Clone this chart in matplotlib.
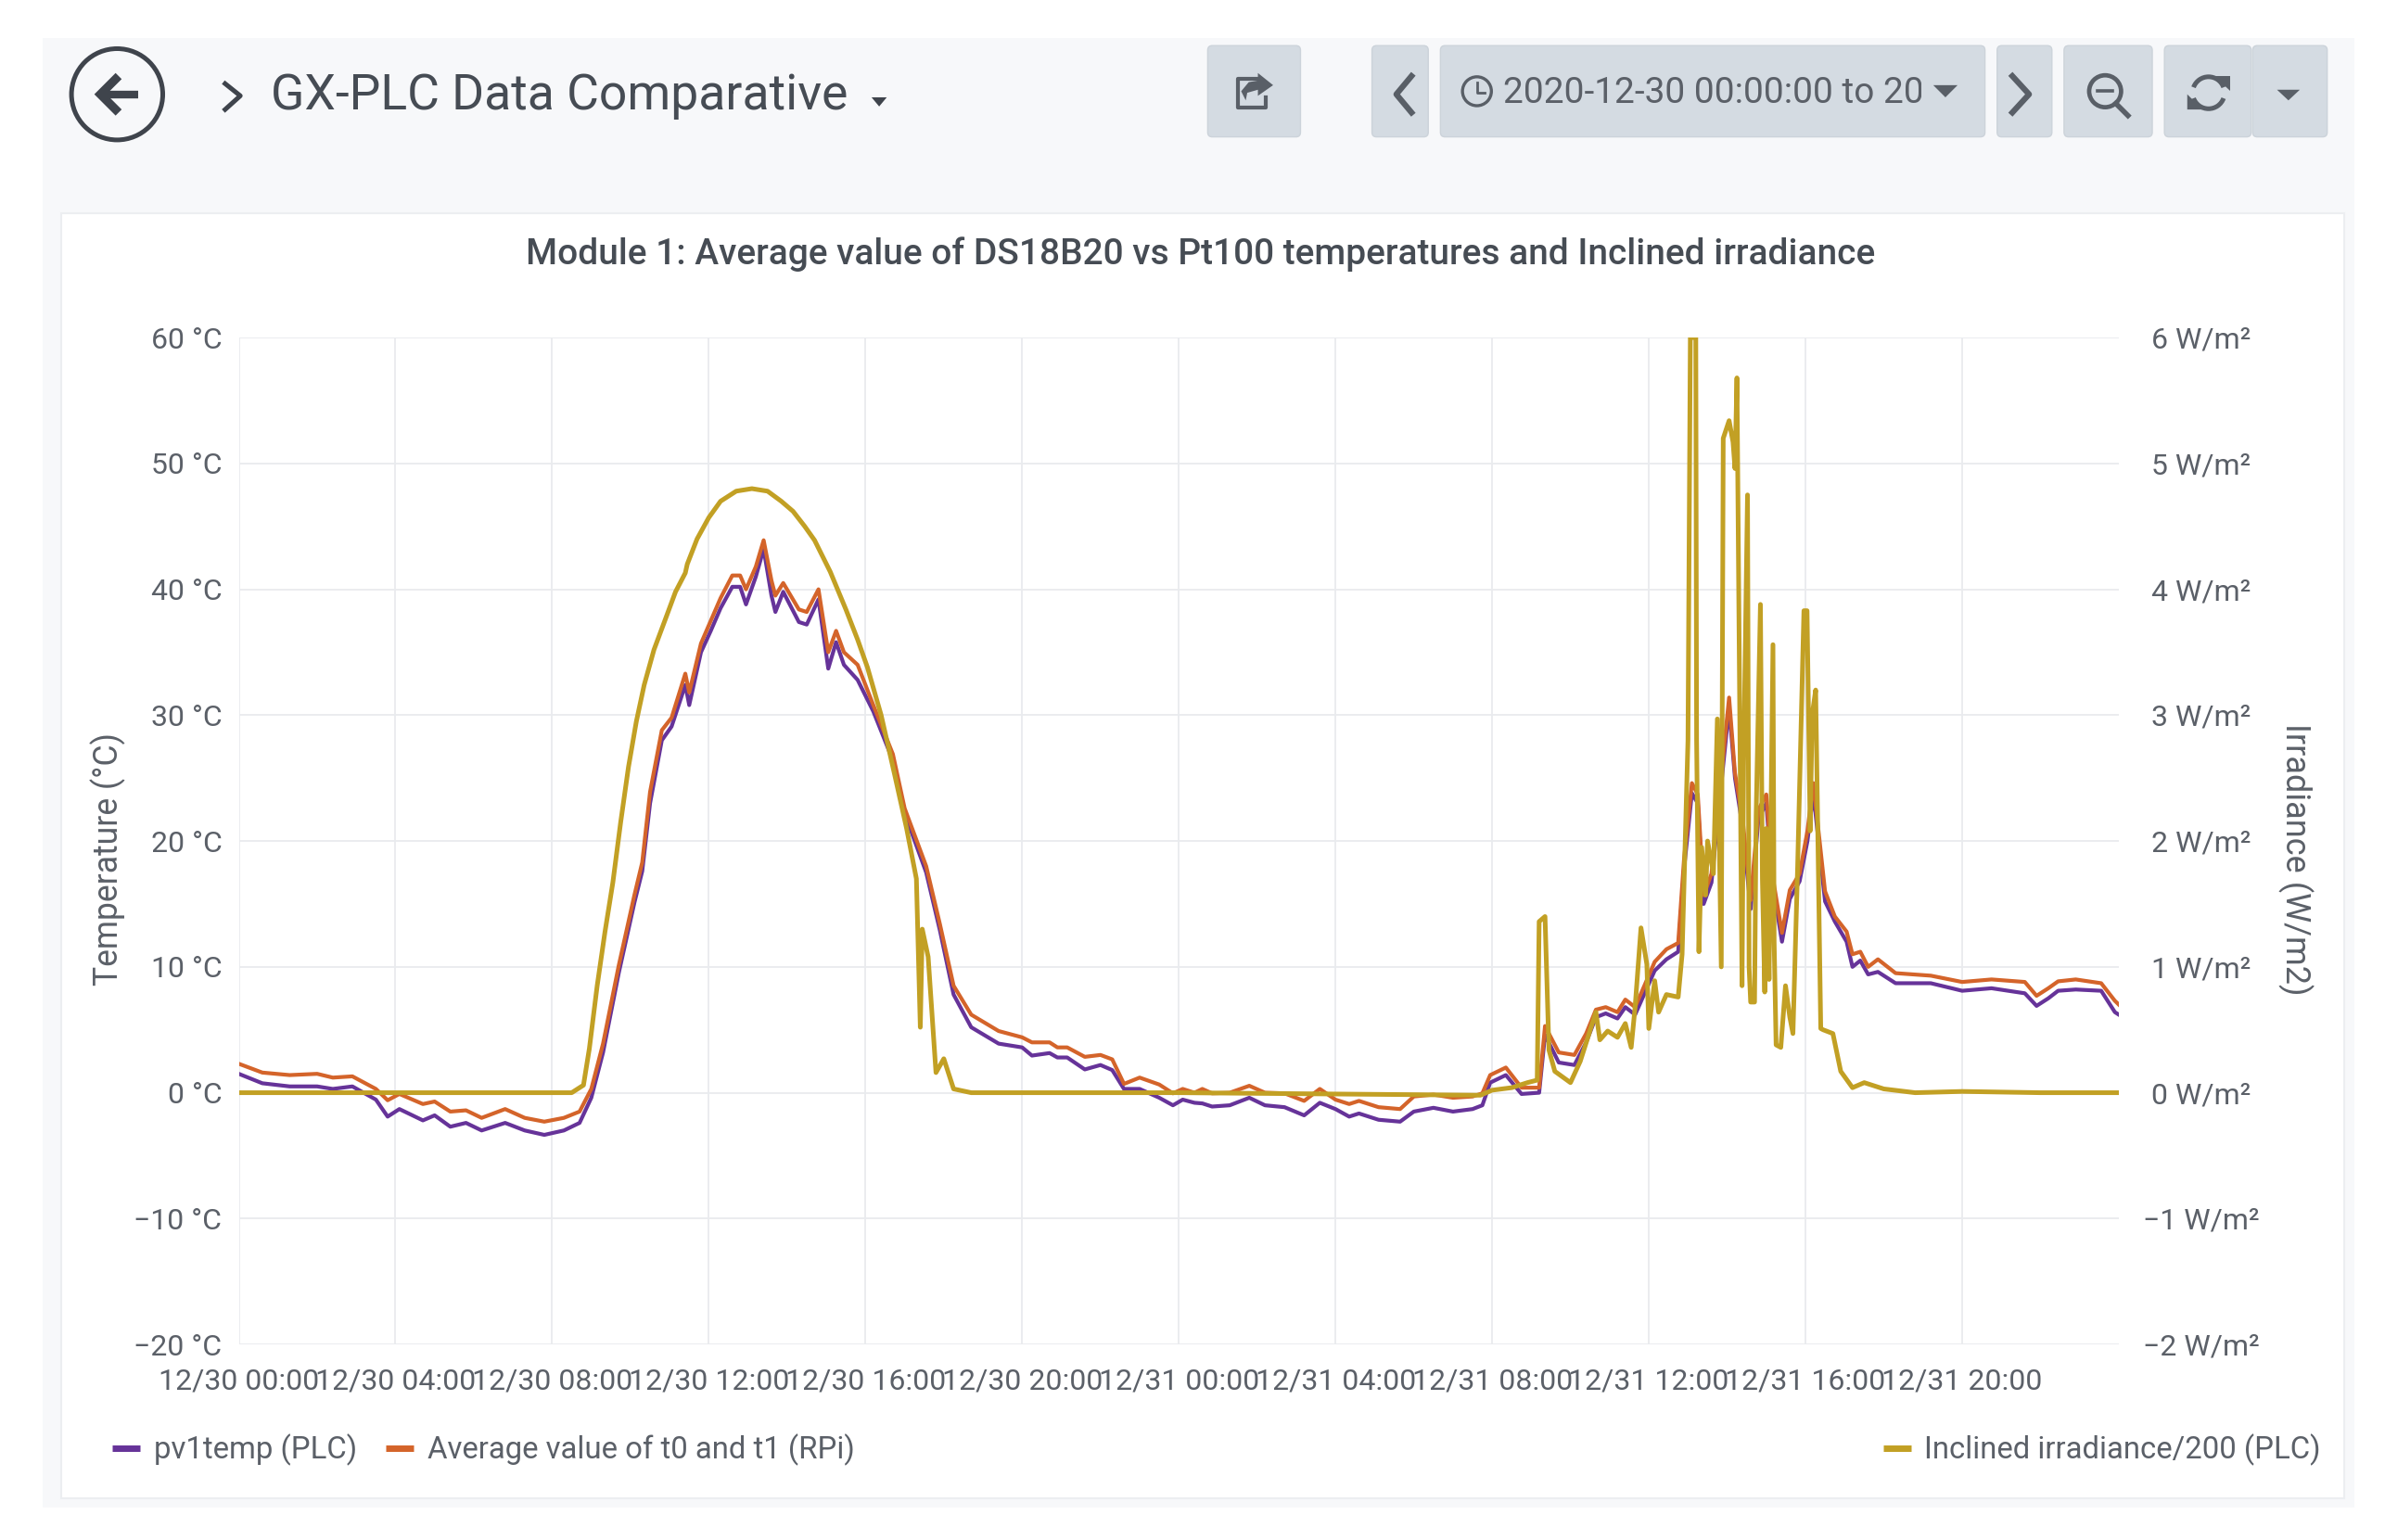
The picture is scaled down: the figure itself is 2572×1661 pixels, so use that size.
import matplotlib
matplotlib.use("Agg")
import matplotlib.pyplot as plt
from matplotlib.patches import Rectangle, FancyBboxPatch, Circle, Arc, Polygon
from matplotlib.lines import Line2D

plt.rcParams['font.family'] = ['Roboto', 'DejaVu Sans']

# ---------- data ----------
title = "Module 1: Average value of DS18B20 vs Pt100 temperatures and Inclined irradiance"
dash_title = "GX-PLC Data Comparative"
time_range = "2020-12-30 00:00:00 to 2021-01-01 00:00:00"
x_ticks = [0, 4, 8, 12, 16, 20, 24, 28, 32, 36, 40, 44]
x_labels = ["12/30 00:00", "12/30 04:00", "12/30 08:00", "12/30 12:00", "12/30 16:00", "12/30 20:00",
            "12/31 00:00", "12/31 04:00", "12/31 08:00", "12/31 12:00", "12/31 16:00", "12/31 20:00"]
temp_ticks = [-20, -10, 0, 10, 20, 30, 40, 50, 60]
temp_labels = ["−20 °C", "−10 °C", "0 °C", "10 °C", "20 °C", "30 °C", "40 °C", "50 °C", "60 °C"]
irr_ticks = [-2, -1, 0, 1, 2, 3, 4, 5, 6]
irr_labels = ["−2 W/m²", "−1 W/m²", "0 W/m²", "1 W/m²", "2 W/m²", "3 W/m²", "4 W/m²", "5 W/m²", "6 W/m²"]

temp_hours = [0, .6, 1.3, 2, 2.4, 2.9, 3.5, 3.8, 4.1, 4.7, 5, 5.4, 5.8, 6.2, 6.8, 7.3, 7.8, 8.3, 8.7, 9, 9.3, 9.7,
              10.1, 10.3, 10.5, 10.8, 11.05, 11.4, 11.5, 11.8, 12.05, 12.3, 12.6, 12.8, 12.95, 13.2, 13.4, 13.6,
              13.7, 13.9, 14.3, 14.5, 14.8, 15.05, 15.25, 15.45, 15.8, 16.2, 16.7, 17, 17.55, 17.9, 18.25, 18.7,
              19.4, 20, 20.25, 20.7, 20.9, 21.15, 21.6, 22, 22.3, 22.6, 23, 23.5, 23.85, 24.1, 24.4, 24.6, 24.85,
              25.3, 25.8, 26.2, 26.7, 27.2, 27.6, 28, 28.35, 28.6, 29.1, 29.65, 30, 30.5, 31, 31.5, 31.75, 31.95,
              32.35, 32.75, 33.2, 33.35, 33.7, 34.1, 34.4, 34.65, 34.9, 35.2, 35.4, 35.65, 36.15, 36.45, 36.75,
              36.9, 37.1, 37.25, 37.4, 37.6, 37.8, 38.05, 38.2, 38.4, 38.6, 38.8, 39, 39.15, 39.4, 39.6, 39.85,
              40.05, 40.2, 40.5, 40.75, 41.05, 41.2, 41.4, 41.6, 41.85, 42.3, 43.2, 44, 44.75, 45.6, 45.9, 46.2,
              46.45, 46.9, 47.55, 47.9, 48]
avg_rpi = [2.3, 1.6, 1.4, 1.5, 1.2, 1.3, .3, -.6, -.1, -.9, -.7, -1.5, -1.4, -2, -1.3, -2, -2.3, -2, -1.5, .3, 3.9, 10.1,
           15.7, 18.3, 23.9, 28.8, 29.8, 33.3, 31.8, 35.7, 37.5, 39.3, 41.1, 41.1, 40, 41.8, 43.9, 40.7,
           39.5, 40.5, 38.4, 38.2, 40, 35, 36.7, 35, 34, 30.8, 26.9, 22.6, 18, 13.4, 8.5, 6.2,
           4.9, 4.4, 4, 4, 3.6, 3.6, 2.85, 3, 2.65, .7, 1.2, .65, -.05, .3, 0, .3, -.05,
           0, .55, 0, -.05, -.65, .3, -.55, -.9, -.65, -1.15, -1.3, -.3, -.15, -.4, -.3, -.05, 1.4,
           2, .4, .4, 5.3, 3.2, 3, 4.7, 6.6, 6.8, 6.4, 7.4, 6.8, 10.4, 11.4, 11.9,
           18.6, 24.6, 23.7, 15.7, 17.4, 23.7, 31.4, 25.4, 21.6, 15.3, 22.5, 23.7, 17.4, 12.7, 16.1, 17.4,
           20.8, 24.6, 16, 14, 12.8, 11, 11.2, 10, 10.6, 9.5, 9.3, 8.8, 9, 8.8, 7.7, 8.3,
           8.85, 9, 8.7, 7.3, 7]
pv1temp = [1.5, .75, .5, .5, .3, .5, -.55, -1.9, -1.3, -2.2, -1.8, -2.7, -2.4, -3, -2.4, -3, -3.35, -3, -2.4, -.4, 3.2, 9.5,
           15.1, 17.6, 23, 28, 29.1, 32.4, 30.8, 35, 36.7, 38.5, 40.2, 40.2, 38.8, 41, 43.2, 39.5,
           38.2, 39.8, 37.4, 37.2, 39.2, 33.7, 35.8, 34, 32.8, 30.3, 26.4, 22.2, 17.5, 12.9, 7.8, 5.2,
           3.9, 3.6, 2.95, 3.15, 2.8, 2.8, 1.85, 2.2, 1.8, .3, .3, -.4, -1, -.55, -.8, -.85, -1.1,
           -1, -.4, -1, -1.15, -1.8, -.8, -1.3, -1.9, -1.65, -2.15, -2.3, -1.5, -1.2, -1.5, -1.3, -1, .8,
           1.4, -.1, 0, 4.6, 2.4, 2.2, 4, 6, 6.3, 5.9, 6.8, 6.2, 9.7, 10.6, 11.2,
           17.8, 23.8, 23, 15, 16.7, 23, 30.6, 25, 21, 14.6, 21.8, 23, 16.8, 12, 15.4, 16.8,
           20, 23.8, 15.2, 13.6, 12, 10, 10.5, 9.4, 9.6, 8.7, 8.7, 8.1, 8.3, 7.9, 6.9, 7.5,
           8.1, 8.2, 8.1, 6.4, 6.2]

irr_hours = [0, 4, 8.5, 8.8, 8.95, 9.15, 9.35, 9.55, 9.75, 9.95, 10.15, 10.35, 10.6, 10.9, 11.15, 11.4, 11.45, 11.7,
             12, 12.3, 12.7, 13.1, 13.5, 13.85, 14.15, 14.45, 14.7, 15.1, 15.5, 15.8, 16.05, 16.4, 16.75, 17.05, 17.3,
             17.4, 17.45, 17.6, 17.8, 18, 18.25, 18.7, 24, 31.7, 32, 32.5, 32.9, 33.15, 33.2, 33.35, 33.45, 33.6, 34,
             34.25, 34.65, 34.75, 34.95, 35.2, 35.4, 35.55, 35.65, 35.8, 35.95, 36, 36.15, 36.25, 36.45, 36.75, 36.85,
             37.0, 37.06, 37.2, 37.22, 37.28, 37.35, 37.45, 37.5, 37.65, 37.75, 37.85, 37.9, 38.05, 38.15, 38.2, 38.25,
             38.38, 38.42, 38.52, 38.56, 38.6, 38.7, 38.74, 38.85, 38.9, 38.96, 39, 39.07, 39.17, 39.2, 39.25, 39.37,
             39.49, 39.6, 39.68, 39.8, 39.96, 40.04, 40.12, 40.17, 40.26, 40.39, 40.45, 40.7, 40.9, 41.2, 41.5, 42,
             42.8, 44, 46, 48]
irradiance = [0, 0, 0, .06, .35, .85, 1.28, 1.67, 2.15, 2.59, 2.95, 3.24, 3.52, 3.77, 3.98, 4.13, 4.2, 4.4,
              4.57, 4.7, 4.78, 4.8, 4.78, 4.7, 4.62, 4.5, 4.39, 4.14, 3.84, 3.6, 3.38, 3, 2.52, 2.1, 1.7,
              .52, 1.3, 1.08, .16, .27, .03, 0, 0, -.02, .02, .04, .08, .1, 1.36, 1.4, .34, .17, .08,
              .25, .64, .42, .49, .44, .55, .36, .68, 1.31, 1.02, .51, .89, .64, .78, .76, 1.1,
              2.8, 6, 6, 2.8, 1.12, 1.95, 1.57, 2, 1.74, 2.97, 1, 5.2, 5.34, 5.17, 4.96, 5.68,
              .85, 2.6, 4.75, 1, .72, .72, 2.2, 3.88, 1.7, .8, 2.1, .9, 3.56, 1.2, .38, .36,
              .85, .6, .47, 1.8, 3.83, 3.83, 2.08, 3, 3.2, .51, .5, .47, .17, .04, .08, .03,
              0, .01, 0, 0]

# ---------- style ----------
C_PURPLE = "#663399"
C_ORANGE = "#d4642a"
C_GOLD = "#c2a024"
TXT = "#5b6068"
W, H = 2572, 1661
S = W / 1568  # reference pixels per unit used below
fig = plt.figure(figsize=(W / 100, H / 100), dpi=100, facecolor="white")

# ---------- dashboard chrome ----------
bg = fig.add_axes([0, 0, 1, 1], zorder=0)
bg.set_xlim(0, 1568)
bg.set_ylim(H / S, 0)
bg.axis("off")
bg.add_patch(Rectangle((28, 25), 1520, 966, fc="#f7f8fa", ec="none"))
bg.add_patch(Rectangle((40, 140), 1501, 845, fc="white", ec="#eceef1", lw=1.5))


def button(x0, x1):
    bg.add_patch(FancyBboxPatch((x0 + 2, 32), x1 - x0 - 4, 56, boxstyle="round,pad=2,rounding_size=3",
                                fc="#d4dbe2", ec="#ccd3da", lw=1))


for a, b in [(794, 855), (902, 939), (947, 1305), (1313, 1349), (1357, 1415), (1423, 1480), (1481, 1530)]:
    button(a, b)

ICON = "#3f444c"
GREY = "#595f67"
bg.add_patch(Circle((77, 62), 30, fc="none", ec=ICON, lw=3.6))
bg.plot([65, 91], [62, 62], color=ICON, lw=6, solid_capstyle="butt")
bg.add_patch(Polygon([[62, 62], [76, 48], [80, 52], [70, 62], [80, 72], [76, 76]], fc=ICON, ec="none"))
bg.plot([148, 158, 148], [55, 63, 72], color=ICON, lw=3.6)
bg.text(178, 63, dash_title, fontsize=38.5, color="#464c54", va="center", ha="left")
bg.add_patch(Polygon([[573, 64], [583, 64], [578, 70]], fc=ICON, ec="none"))
# share icon
bg.plot([826, 814, 814, 832, 832], [52, 52, 71, 71, 64], color=GREY, lw=3)
bg.add_patch(Polygon([[827, 48], [837, 56], [827, 63], [827, 59], [820, 61], [819, 66], [816, 60], [821, 54], [827, 53]],
                     fc=GREY, ec="none"))
# chevrons
bg.plot([928, 918, 928], [50, 62, 74], color=GREY, lw=4.5)
bg.plot([1323, 1334, 1323], [50, 62, 74], color=GREY, lw=4.5)
# clock and time range
bg.add_patch(Circle((971, 60), 9.5, fc="none", ec=GREY, lw=2.4))
bg.plot([971, 971, 976], [54, 61, 61], color=GREY, lw=2)
rng = bg.text(988, 61, time_range, fontsize=28, color=TXT, va="center", ha="left")
rng.set_clip_on(True)
rng.set_clip_path(Rectangle((988, 30), 275, 60, transform=bg.transData))
bg.add_patch(Polygon([[1271, 56], [1287, 56], [1279, 64]], fc=GREY, ec="none"))
# zoom icon
bg.add_patch(Circle((1384, 60), 10.5, fc="none", ec=GREY, lw=3.4))
bg.plot([1379, 1389], [60, 60], color=GREY, lw=2.6)
bg.plot([1391, 1399], [68, 76], color=GREY, lw=4)
# refresh icon
bg.add_patch(Arc((1452, 61), 21, 21, theta1=200, theta2=340, ec=GREY, lw=3.6))
bg.add_patch(Arc((1452, 61), 21, 21, theta1=20, theta2=160, ec=GREY, lw=3.6))
bg.add_patch(Polygon([[1456, 50], [1466, 50], [1466, 60]], fc=GREY, ec="none"))
bg.add_patch(Polygon([[1438, 62], [1448, 72], [1438, 72]], fc=GREY, ec="none"))
bg.add_patch(Polygon([[1497, 59], [1512, 59], [1504.5, 66]], fc=GREY, ec="none"))

bg.text(789.5, 167, title, fontsize=28, color="#464c54", va="center", ha="center", fontweight="medium")

# ---------- chart ----------
L, R, T, B = 157 * S, 1393 * S, 222 * S, 884 * S
ax = fig.add_axes([L / W, 1 - B / H, (R - L) / W, (B - T) / H], zorder=2)
ax.patch.set_alpha(0)
ax.set_xlim(0, 48)
ax.set_ylim(-20, 60)
ax.set_xticks(x_ticks, x_labels)
ax.set_yticks(temp_ticks, temp_labels)
ax.tick_params(axis="both", length=0, labelsize=23, labelcolor=TXT)
ax.tick_params(axis="y", pad=13)
ax.tick_params(axis="x", pad=18)
ax.grid(True, color="#e9ebee", lw=1.3)
ax.set_axisbelow(True)
for s in ax.spines.values():
    s.set_visible(False)

ax.plot(temp_hours, pv1temp, color=C_PURPLE, lw=3.0, solid_joinstyle="round")
ax.plot(temp_hours, avg_rpi, color=C_ORANGE, lw=3.0, solid_joinstyle="round")

ax2 = ax.twinx()
ax2.set_ylim(-2, 6)
ax2.set_yticks(irr_ticks, irr_labels)
ax2.tick_params(axis="y", length=0, labelsize=23, labelcolor=TXT, pad=64)
for lab in ax2.get_yticklabels():
    lab.set_ha("center")
for s in ax2.spines.values():
    s.set_visible(False)
ax2.plot(irr_hours, irradiance, color=C_GOLD, lw=3.6, solid_joinstyle="round")

fig.text(71 * S / W, 1 - 565 * S / H, "Temperature (°C)", rotation=90, fontsize=25.6, color=TXT, va="center", ha="center")
fig.text(1509 * S / W, 1 - 565 * S / H, "Irradiance (W/m2)", rotation=270, fontsize=26, color=TXT, va="center", ha="center")

# ---------- legends ----------
leg_kw = dict(frameon=False, fontsize=23.7, labelcolor=TXT, handlelength=0.9, handletextpad=0.45,
              borderpad=0, borderaxespad=0, ncol=2, columnspacing=0.95, bbox_transform=fig.transFigure)
h1 = Line2D([], [], color=C_PURPLE, lw=5, solid_capstyle="butt")
h2 = Line2D([], [], color=C_ORANGE, lw=5, solid_capstyle="butt")
h3 = Line2D([], [], color=C_GOLD, lw=5, solid_capstyle="butt")
ax.legend([h1, h2], ["pv1temp (PLC)", "Average value of t0 and t1 (RPi)"], loc="center left",
          bbox_to_anchor=(74 * S / W, 1 - 953.5 * S / H), **leg_kw)
ax2.legend([h3], ["Inclined irradiance/200 (PLC)"], loc="center right",
           bbox_to_anchor=(1526 * S / W, 1 - 953.5 * S / H), **leg_kw)

fig.savefig("out.png", dpi=100, facecolor="white")
